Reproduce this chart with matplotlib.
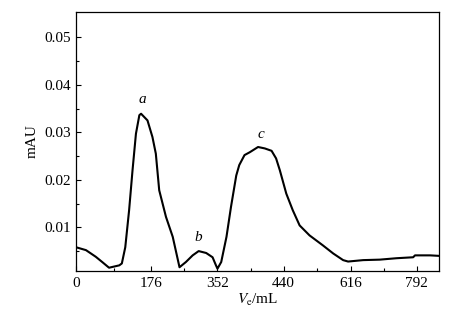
import matplotlib

matplotlib.use("Agg")
import matplotlib.pyplot as plt
import numpy as np

# elution volume (mL) and absorbance
volume = [0, 23, 46, 61, 77, 101, 107, 115, 124, 132, 140, 148, 152, 167,
          179, 188, 197, 215, 233, 251, 268, 286, 302, 322, 339, 348, 352,
          357, 364, 370, 377, 381, 388, 395, 406, 415, 424, 430, 435, 447,
          464, 482, 508, 543, 570, 596, 609, 649, 693, 738, 782, 787, 827, 849]
absorb = [0.0058, 0.0052, 0.0038, 0.0027, 0.0015, 0.0020, 0.0024, 0.0058,
          0.0136, 0.0220, 0.0297, 0.0336, 0.0339, 0.0325, 0.0290, 0.0255,
          0.0178, 0.0122, 0.0080, 0.0016, 0.0027, 0.0041, 0.0050, 0.0046,
          0.0037, 0.0020, 0.0013, 0.0027, 0.0080, 0.0143, 0.0209, 0.0231,
          0.0252, 0.0258, 0.0269, 0.0266, 0.0261, 0.0245, 0.0220, 0.0171,
          0.0136, 0.0104, 0.0083, 0.0062, 0.0045, 0.0031, 0.0028, 0.0031,
          0.0032, 0.0035, 0.0037, 0.0041, 0.0041, 0.0040]

x_ticks = [0, 176, 352, 440, 616, 792]
x_minor = [88, 264, 396, 528, 704]
y_ticks = [0.01, 0.02, 0.03, 0.04, 0.05]
y_minor = [0.005, 0.015, 0.025, 0.035, 0.045]

# peak labels
peaks = ["a", "b", "c"]
peak_x = [156, 302, 410]
peak_y = [0.0369, 0.0079, 0.0296]

# the printed axis is not evenly spaced, so map it piecewise
scale_ml = [0, 176, 352, 440, 616, 792, 850]
scale_pos = [0, 75, 141, 207, 274, 340, 362]


def fwd(v):
    return np.interp(v, scale_ml, scale_pos)


def inv(p):
    return np.interp(p, scale_pos, scale_ml)


plt.rcParams["font.family"] = ["Liberation Serif", "DejaVu Serif"]
plt.rcParams["mathtext.fontset"] = "stix"

fig = plt.figure(figsize=(4.73, 3.25), dpi=100)
ax = fig.add_axes([0.161, 0.166, 0.767, 0.797])

ax.plot(volume, absorb, color="black", linewidth=1.5)

for lab, px, py in zip(peaks, peak_x, peak_y):
    ax.text(px, py, lab, fontsize=11, style="italic", ha="center", va="center")

ax.set_xscale("function", functions=(fwd, inv))
ax.set_xlim(0, 850)
ax.set_ylim(0.0008, 0.0553)
ax.set_xticks(x_ticks, [str(t) for t in x_ticks])
ax.set_xticks(x_minor, minor=True)
ax.set_yticks(y_ticks, [f"{t:.2f}" for t in y_ticks])
ax.set_yticks(y_minor, minor=True)

ax.tick_params(which="both", direction="in", top=False, right=False,
               labelsize=11, width=0.8)
ax.tick_params(which="major", length=3.5, pad=4)
ax.tick_params(which="minor", length=2.5)
for s in ax.spines.values():
    s.set_linewidth(0.9)

ax.set_xlabel(r"$V_{\mathrm{e}}$/mL", fontsize=11, labelpad=2)
ax.set_ylabel("mAU", fontsize=11, labelpad=4)

fig.savefig("out.png", dpi=100)
